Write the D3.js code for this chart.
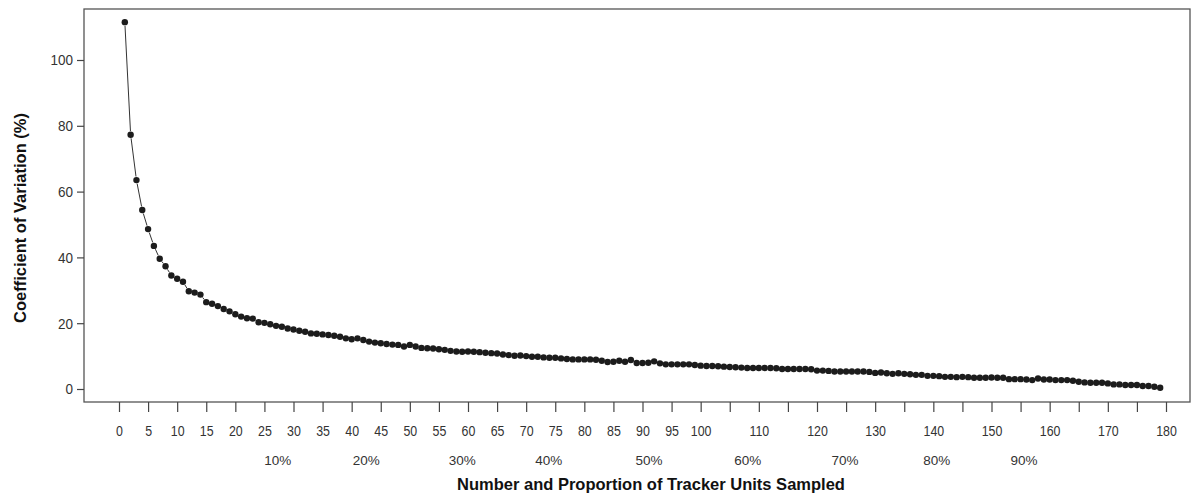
<!DOCTYPE html>
<html><head><meta charset="utf-8">
<script src="https://cdn.jsdelivr.net/npm/d3@7"></script>
<style>
html,body{margin:0;padding:0;background:#fff;}
svg{display:block;}
</style></head>
<body>
<svg id="chart" width="1195" height="498"></svg>
<script>
// ---- data ----
const cvValues = [
111.5,77.3,63.5,54.4,48.6,43.5,39.6,37.3,34.5,33.5,
32.6,29.7,29.3,28.7,26.4,25.9,25.2,24.3,23.6,22.7,
22.0,21.5,21.4,20.3,20.1,19.7,19.2,18.9,18.4,18.1,
17.7,17.4,16.9,16.8,16.6,16.4,16.2,15.9,15.4,15.1,
15.4,14.9,14.4,14.1,13.9,13.7,13.5,13.4,12.9,13.4,
12.9,12.5,12.4,12.3,12.1,11.9,11.6,11.4,11.3,11.4,
11.3,11.2,11.0,10.9,10.8,10.5,10.3,10.1,10.2,10.0,
9.8,9.8,9.6,9.5,9.5,9.3,9.1,9.0,9.0,9.0,
9.0,8.9,8.6,8.2,8.3,8.6,8.3,8.8,7.9,7.9,
8.0,8.4,7.8,7.5,7.5,7.5,7.5,7.5,7.3,7.1,
7.0,7.0,6.9,6.8,6.7,6.6,6.5,6.4,6.4,6.4,
6.4,6.4,6.3,6.1,6.1,6.1,6.1,6.1,6.0,5.6,
5.6,5.5,5.3,5.3,5.3,5.3,5.3,5.3,5.2,4.9,
5.0,4.8,4.6,4.8,4.6,4.5,4.3,4.3,4.0,4.0,
3.9,3.7,3.7,3.6,3.7,3.6,3.4,3.4,3.4,3.5,
3.4,3.4,3.0,3.0,3.0,2.9,2.7,3.2,2.9,2.9,
2.7,2.7,2.7,2.5,2.2,2.0,1.9,1.9,1.9,1.7,
1.4,1.4,1.2,1.2,1.2,0.9,0.9,0.7,0.4
];
const sampleSizes = cvValues.map((v, i) => i + 1);
const xTickValues = d3.range(0, 181, 5);
const xTickLabels = ["0","5","10","15","20","25","30","35","40","45","50","55","60","65","70","75","80","85","90","95","100","110","120","130","140","150","160","170","180"];
const xTickLabelValues = [0,5,10,15,20,25,30,35,40,45,50,55,60,65,70,75,80,85,90,95,100,110,120,130,140,150,160,170,180];
const yTickValues = [0,20,40,60,80,100];
const pctLabels = ["10%","20%","30%","40%","50%","60%","70%","80%","90%"];
const pctPositions = [27.3,42.5,59.0,73.9,91.1,108.1,124.8,140.6,155.6];
const xTitle = "Number and Proportion of Tracker Units Sampled";
const yTitle = "Coefficient of Variation (%)";

// ---- layout ----
const svg = d3.select("#chart");
const box = {left:84, top:9, right:1190, bottom:402};
const x = d3.scaleLinear().domain([0,180]).range([119,1166]);
const y = d3.scaleLinear().domain([0,100]).range([389,60]);
const axisColor = "#444";
const textColor = "#333";
const condense = (sel, k) => sel.each(function(){
  const t = d3.select(this);
  if (!t.text()) return;
  const w = this.getComputedTextLength();
  t.attr("textLength", w * k).attr("lengthAdjust", "spacingAndGlyphs");
});

// box
svg.append("rect")
  .attr("x", box.left).attr("y", box.top)
  .attr("width", box.right - box.left).attr("height", box.bottom - box.top)
  .attr("fill","none").attr("stroke","#555").attr("stroke-width",1.3);

// y axis
const yAxis = d3.axisLeft(y).tickValues(yTickValues).tickSize(7).tickPadding(4).tickFormat(d3.format("d"));
const gy = svg.append("g").attr("transform",`translate(${box.left},0)`).call(yAxis);
gy.select(".domain").remove();
gy.selectAll(".tick line").attr("stroke",axisColor).attr("stroke-width",1.2);
gy.selectAll(".tick text").attr("fill",textColor)
  .style("font-family","'Liberation Sans',Arial,sans-serif")
  .style("font-size","15px").call(condense, 0.9);

// x axis
const xAxis = d3.axisBottom(x).tickValues(xTickValues).tickSize(10).tickPadding(13)
  .tickFormat(d => xTickLabelValues.includes(d) ? xTickLabels[xTickLabelValues.indexOf(d)] : "");
const gx = svg.append("g").attr("transform",`translate(0,${box.bottom})`).call(xAxis);
gx.select(".domain").remove();
gx.selectAll(".tick line").attr("stroke",axisColor).attr("stroke-width",1.2);
gx.selectAll(".tick text").attr("fill",textColor)
  .style("font-family","'Liberation Sans',Arial,sans-serif")
  .style("font-size","15.5px").call(condense, 0.8);

// percentage labels
svg.append("g").selectAll("text").data(pctLabels).join("text")
  .attr("x",(d,i)=>x(pctPositions[i])).attr("y",465)
  .attr("text-anchor","middle").attr("fill",textColor)
  .style("font-family","'Liberation Sans',Arial,sans-serif").style("font-size","13.5px")
  .text(d=>d);

// connecting segments (type="b": gaps around points)
const gap = 3.6;
const segs = d3.pairs(sampleSizes.map((n,i)=>[x(n), y(cvValues[i])]));
svg.append("g").selectAll("line").data(segs).join("line")
  .each(function([a,b]){
    const dx=b[0]-a[0], dy=b[1]-a[1], L=Math.hypot(dx,dy);
    const sel=d3.select(this);
    if (L <= 2*gap) { sel.remove(); return; }
    const ux=dx/L, uy=dy/L;
    sel.attr("x1",a[0]+ux*gap).attr("y1",a[1]+uy*gap)
       .attr("x2",b[0]-ux*gap).attr("y2",b[1]-uy*gap);
  })
  .attr("stroke","#333").attr("stroke-width",1);

// points
svg.append("g").selectAll("circle").data(cvValues).join("circle")
  .attr("cx",(d,i)=>x(sampleSizes[i])).attr("cy",d=>y(d))
  .attr("r",3.2).attr("fill","#1c1c1c");

// titles
svg.append("text").attr("x",651).attr("y",490).attr("text-anchor","middle")
  .style("font-family","'Liberation Sans',Arial,sans-serif").style("font-size","16.5px").style("font-weight","bold")
  .attr("fill","#111").text(xTitle);
svg.append("text").attr("transform","translate(26,218) rotate(-90)").attr("text-anchor","middle")
  .style("font-family","'Liberation Sans',Arial,sans-serif").style("font-size","16.5px").style("font-weight","bold")
  .attr("fill","#111").text(yTitle);
</script>
</body></html>
